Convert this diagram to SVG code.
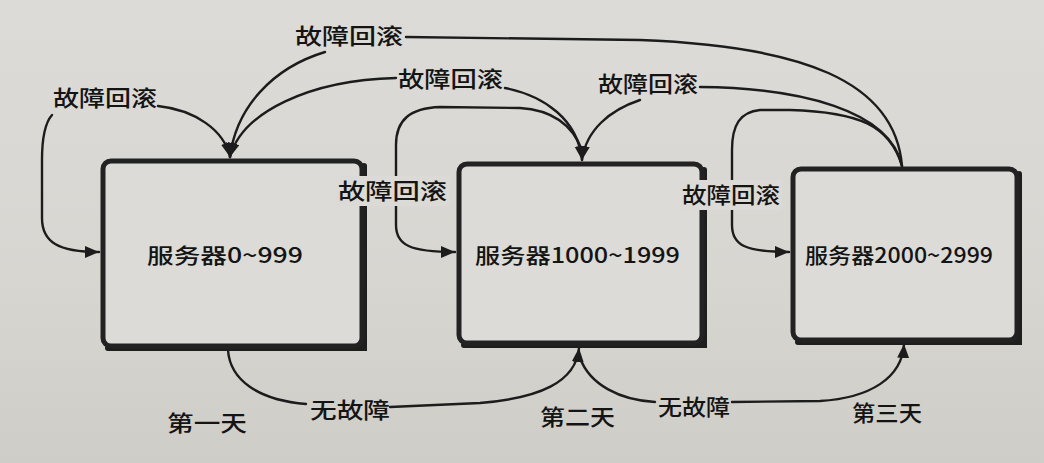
<svg xmlns="http://www.w3.org/2000/svg" width="1044" height="463" viewBox="0 0 1044 463">
  <defs>
    <marker id="ah" markerUnits="userSpaceOnUse" markerWidth="16" markerHeight="14" refX="14" refY="6" orient="auto">
      <path d="M0,0 L14,6 L0,12 Z" fill="#1c1c1c"/>
    </marker>
    <linearGradient id="bg" x1="0" y1="0" x2="0" y2="1">
      <stop offset="0" stop-color="#dcdbd7"/>
      <stop offset="0.6" stop-color="#d8d6d1"/>
      <stop offset="1" stop-color="#cfcdc7"/>
    </linearGradient>
  </defs>
  <style>
    .box { fill: #dcdbd7; stroke: #222; stroke-width: 5; }
    .shadow { fill: none; stroke: #1e1e1e; stroke-width: 6; stroke-linecap: round; }
    .line { fill: none; stroke: #1c1c1c; stroke-width: 2.4; stroke-linecap: round; }
    .lbl { font-family: "Noto Sans CJK SC", "Noto Sans", sans-serif; font-size: 22px; font-weight: 500; fill: #141414; }
    .boxt { font-family: "Noto Sans CJK SC", "Noto Sans", sans-serif; font-size: 21px; font-weight: 500; fill: #141414; }
    .mask { fill: #dbdad6; }
  </style>
  <rect x="0" y="0" width="1044" height="463" fill="url(#bg)"/>

  <g id="connectors">
    <path class="line" d="M 52 115 C 44 124, 42 140, 42 160 L 42 218 C 42 242, 58 252, 99 252" marker-end="url(#ah)"/>
    <path class="line" d="M 158 106 C 195 110, 224 130, 230 157" marker-end="url(#ah)"/>
    <path class="line" d="M 406 37 L 640 40 C 800 46, 895 80, 902 166"/>
    <path class="line" d="M 325 52 C 272 68, 236 108, 230 157" marker-end="url(#ah)"/>
    <path class="line" d="M 396 78 C 310 80, 242 112, 230 157" marker-end="url(#ah)"/>
    <path class="line" d="M 505 88 C 545 96, 578 120, 582 160" marker-end="url(#ah)"/>
    <path class="line" d="M 582 150 C 572 124, 552 110, 520 108 L 440 107 C 410 108, 396 120, 396 145 L 396 225 C 396 245, 410 252, 455 252" marker-end="url(#ah)"/>
    <path class="line" d="M 640 100 C 610 110, 586 130, 582 160" marker-end="url(#ah)"/>
    <path class="line" d="M 700 87 C 800 88, 890 110, 902 166"/>
    <path class="line" d="M 902 166 C 890 126, 860 112, 790 110 L 760 110 C 740 112, 732 125, 732 150 L 732 225 C 732 245, 745 252, 789 252" marker-end="url(#ah)"/>
    <path class="line" d="M 228 350 C 230 380, 258 400, 306 404"/>
    <path class="line" d="M 390 407 L 480 403 C 540 398, 576 382, 579 348" marker-end="url(#ah)"/>
    <path class="line" d="M 580 358 C 590 385, 620 400, 655 402"/>
    <path class="line" d="M 732 402 L 820 401 C 870 398, 902 378, 904 344" marker-end="url(#ah)"/>
  </g>

  <g id="node-b1">
    <path class="shadow" d="M 364 166 L 364 348 L 108 348"/>
    <rect class="box" x="103" y="161" width="259" height="185" rx="8"/>
    <text class="boxt" x="147" y="263" textLength="156" lengthAdjust="spacingAndGlyphs">服务器0~999</text>
  </g>
  <g id="node-b2">
    <path class="shadow" d="M 704 170 L 704 345 L 464 345"/>
    <rect class="box" x="459" y="164" width="243" height="179" rx="8"/>
    <text class="boxt" x="475" y="263" textLength="205" lengthAdjust="spacingAndGlyphs">服务器1000~1999</text>
  </g>
  <g id="node-b3">
    <path class="shadow" d="M 1019 174 L 1019 342 L 798 342"/>
    <rect class="box" x="793" y="169" width="224" height="171" rx="8"/>
    <text class="boxt" x="805" y="263" textLength="188" lengthAdjust="spacingAndGlyphs">服务器2000~2999</text>
  </g>

  <g id="labels">
    <text class="lbl" x="295" y="44" textLength="108" lengthAdjust="spacingAndGlyphs">故障回滚</text>
    <text class="lbl" x="53" y="106" textLength="104" lengthAdjust="spacingAndGlyphs">故障回滚</text>
    <text class="lbl" x="398" y="87" textLength="105" lengthAdjust="spacingAndGlyphs">故障回滚</text>
    <text class="lbl" x="598" y="92" textLength="100" lengthAdjust="spacingAndGlyphs">故障回滚</text>
    <rect class="mask" x="336" y="176" width="114" height="30"/>
    <text class="lbl" x="338" y="199" textLength="109" lengthAdjust="spacingAndGlyphs">故障回滚</text>
    <rect class="mask" x="680" y="180" width="102" height="30"/>
    <text class="lbl" x="682" y="203" textLength="98" lengthAdjust="spacingAndGlyphs">故障回滚</text>
    <text class="lbl" x="310" y="418" textLength="80" lengthAdjust="spacingAndGlyphs">无故障</text>
    <text class="lbl" x="658" y="415" textLength="72" lengthAdjust="spacingAndGlyphs">无故障</text>
    <text class="lbl" x="167" y="431" textLength="80" lengthAdjust="spacingAndGlyphs">第一天</text>
    <text class="lbl" x="540" y="425" textLength="75" lengthAdjust="spacingAndGlyphs">第二天</text>
    <text class="lbl" x="852" y="421" textLength="70" lengthAdjust="spacingAndGlyphs">第三天</text>
  </g>
</svg>
